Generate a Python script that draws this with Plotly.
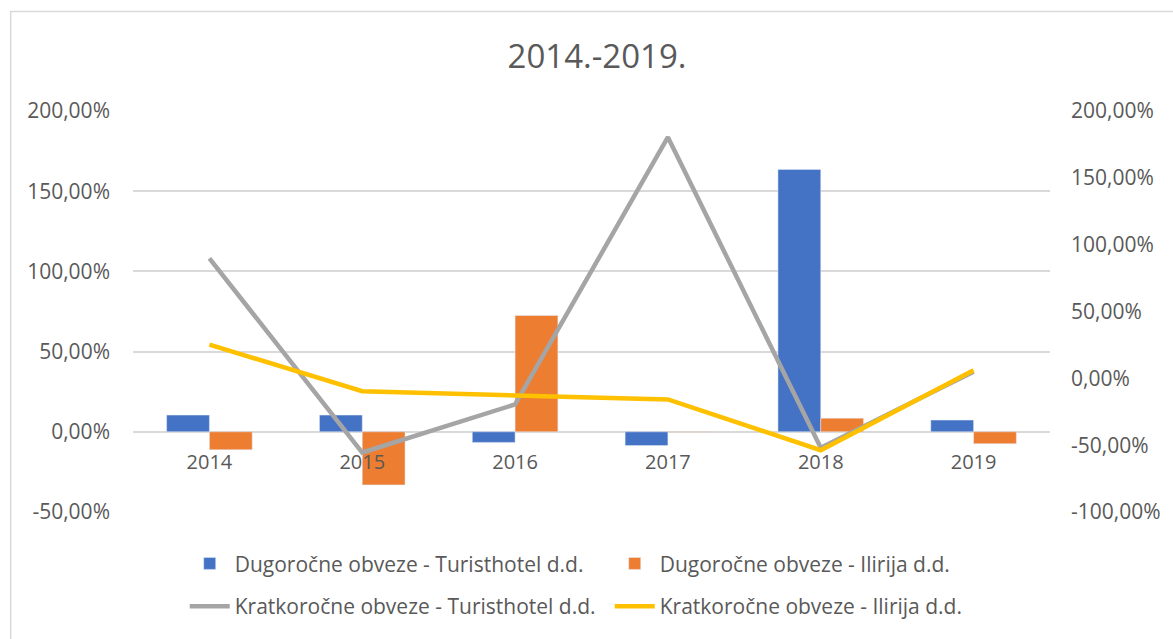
import plotly.graph_objects as go

years = ["2014", "2015", "2016", "2017", "2018", "2019"]
dug_turisthotel = [10.4, 10.4, -6.6, -8.6, 163.6, 7.3]
dug_ilirija = [-11.2, -33.1, 72.5, -0.3, 8.5, -7.4]
krat_turisthotel = [89.8, -55.5, -19.5, 180.4, -52.0, 5.0]
krat_ilirija = [25.2, -9.6, -12.8, -15.8, -53.8, 6.0]

left_ticks = [-50, 0, 50, 100, 150, 200]
left_labels = ["-50,00%", "0,00%", "50,00%", "100,00%", "150,00%", "200,00%"]
right_ticks = [-100, -50, 0, 50, 100, 150, 200]
right_labels = ["-100,00%", "-50,00%", "0,00%", "50,00%", "100,00%", "150,00%", "200,00%"]

names = ["Dugoročne obveze - Turisthotel d.d.", "Dugoročne obveze - Ilirija d.d.",
         "Kratkoročne obveze - Turisthotel d.d.", "Kratkoročne obveze - Ilirija d.d."]

FONT = "Open Sans"
TXT = "#595959"
W, H = 1173, 639
ML, MR, MT, MB = 133, 118, 111, 125
PW, PH = W - ML - MR, H - MT - MB

def px_x(x):
    return (x - ML) / PW

def px_y(y):
    return (H - MB - y) / PH

fig = go.Figure()
fig.add_trace(go.Bar(x=years, y=dug_turisthotel, name=names[0], marker_color="#4472C4",
                     legend="legend"))
fig.add_trace(go.Bar(x=years, y=dug_ilirija, name=names[1], marker_color="#ED7D31",
                     legend="legend"))
fig.add_trace(go.Scatter(x=years, y=krat_turisthotel, name=names[2], mode="lines",
                         line=dict(color="#A5A5A5", width=4.5), yaxis="y2", legend="legend2"))
fig.add_trace(go.Scatter(x=years, y=krat_ilirija, name=names[3], mode="lines",
                         line=dict(color="#FFC000", width=4.5), yaxis="y2", legend="legend2"))

fig.update_layout(
    width=W, height=H,
    margin=dict(l=ML, r=MR, t=MT, b=MB),
    paper_bgcolor="white", plot_bgcolor="white",
    font=dict(family=FONT, color=TXT, size=21),
    title=dict(text="2014.-2019.", x=597 / W, xref="container", xanchor="center",
               y=1 - 56 / H, yref="container", yanchor="middle",
               font=dict(size=33, color=TXT, family=FONT)),
    barmode="group", bargap=0.44, bargroupgap=0,
    xaxis=dict(anchor="free", position=0.2, showline=False, ticks="", showgrid=False,
               zeroline=False, tickfont=dict(size=20, color=TXT), ticklabelstandoff=16),
    yaxis=dict(range=[-50, 200], tickvals=left_ticks, ticktext=left_labels,
               showgrid=True, gridcolor="#D9D9D9", gridwidth=1.5, zeroline=False,
               showline=False, ticks="", tickfont=dict(size=21, color=TXT),
               ticklabelstandoff=22),
    yaxis2=dict(range=[-100, 200], tickvals=right_ticks, ticktext=right_labels,
                overlaying="y", side="right", showgrid=False, zeroline=False,
                showline=False, ticks="", tickfont=dict(size=21, color=TXT),
                ticklabelstandoff=20),
    legend=dict(orientation="h", x=px_x(185), xanchor="left", y=px_y(566), yanchor="middle",
                entrywidth=370, entrywidthmode="pixels", font=dict(size=21, color=TXT),
                bgcolor="rgba(0,0,0,0)", itemwidth=40),
    legend2=dict(orientation="h", x=px_x(185), xanchor="left", y=px_y(609), yanchor="middle",
                 entrywidth=370, entrywidthmode="pixels", font=dict(size=21, color=TXT),
                 bgcolor="rgba(0,0,0,0)", itemwidth=40),
    shapes=[dict(type="rect", xref="paper", yref="paper",
                 x0=px_x(10), x1=px_x(W + 20), y0=px_y(H + 20), y1=px_y(11),
                 line=dict(color="#D9D9D9", width=1.5), fillcolor="rgba(0,0,0,0)", layer="below")],
)

fig.write_html("out.html", config={"displayModeBar": False},
               post_script="document.body.style.margin='0';document.body.style.overflow='hidden';")
